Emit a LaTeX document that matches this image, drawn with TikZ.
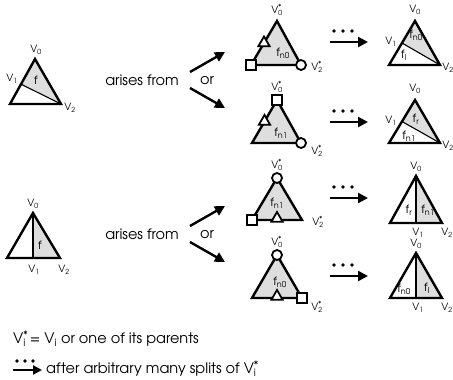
\documentclass[tikz,border=0pt]{standalone}
\usepackage{fontspec}
\setmainfont{texgyreadventor-regular.otf}
\usetikzlibrary{arrows.meta,shapes.geometric,calc}
\newcommand{\vl}[1]{V\textsubscript{#1}}
\newcommand{\vs}[1]{V\rlap{\textsuperscript{*}}\textsubscript{#1}}
\newcommand{\fl}[1]{f\textsubscript{#1}}
\begin{document}
\begin{tikzpicture}[x=1pt,y=-1pt,
  tri/.style={line width=2.4pt,line join=miter},
  split/.style={line width=1.1pt},
  fillg/.style={fill=black!13},
  arr/.style={line width=2.4pt,-{Triangle[length=10pt,width=10pt]}},
  larr/.style={line width=2.2pt,-{Triangle[length=9pt,width=9pt]}},
  vlab/.style={font=\fontsize{10}{12}\selectfont,inner sep=0.5pt},
  flab/.style={font=\fontsize{11.5}{14}\selectfont,inner sep=0pt},
  txt/.style={font=\fontsize{14.5}{17}\selectfont,inner sep=0pt},
  mkc/.style={circle,draw,line width=1.8pt,fill=white,inner sep=0pt,minimum size=10pt},
  mks/.style={rectangle,draw,line width=1.8pt,fill=white,inner sep=0pt,minimum size=10pt},
  mkt/.style={regular polygon,regular polygon sides=3,draw,line width=1.8pt,fill=white,inner sep=0pt,minimum size=13pt},
  dot/.style={circle,fill=black,inner sep=0pt,minimum size=3.8pt}]
\useasboundingbox (0,0) rectangle (453,380);

% ---------- left triangle, row 1
\coordinate (a0) at (35,59); \coordinate (aL) at (10,104); \coordinate (a2) at (61,104);
\coordinate (a1) at ($(a0)!0.56!(aL)$);
\fill[fillg] (a0) -- (a1) -- (a2) -- cycle;
\draw[split] (a1) -- (a2);
\draw[tri] (a0) -- (aL) -- (a2) -- cycle;
\node[vlab] (a0l) at (36,50) {\vl{0}};
\node[vlab] (a1l) at (12,79) {\vl{1}};
\node[vlab] (a2l) at (70,108) {\vl{2}};
\node[flab] (af) at (36,80) {f};

% ---------- left triangle, row 2
\coordinate (b0) at (33,213); \coordinate (bL) at (7,258); \coordinate (b2) at (60,258);
\coordinate (b1) at (33,258);
\fill[fillg] (b0) -- (b1) -- (b2) -- cycle;
\draw[split] (b0) -- (b1);
\draw[tri] (b0) -- (bL) -- (b2) -- cycle;
\node[vlab] (b0l) at (33,204) {\vl{0}};
\node[vlab] (b1l) at (34,270) {\vl{1}};
\node[vlab] (b2l) at (64,270) {\vl{2}};
\node[flab] (bf) at (40,245) {f};

% ---------- texts
\node[txt] (t1) at (142,80) {arises from};
\node[txt] (o1) at (207,81) {or};
\node[txt] (t2) at (142,234) {arises from};
\node[txt] (o2) at (207,235) {or};
\coordinate (s1a) at (190,72); \coordinate (e1a) at (225,52);
\coordinate (s1b) at (190,88); \coordinate (e1b) at (225,108);
\coordinate (s2a) at (190,226); \coordinate (e2a) at (225,206);
\coordinate (s2b) at (190,242); \coordinate (e2b) at (225,262);
\draw[arr] (s1a) -- (e1a);
\draw[arr] (s1b) -- (e1b);
\draw[arr] (s2a) -- (e2a);
\draw[arr] (s2b) -- (e2b);

% ---------- middle triangles
% m1
\coordinate (m1a) at (277,21); \coordinate (m1l) at (251,65); \coordinate (m1r) at (301,65);
\filldraw[fillg,tri] (m1a) -- (m1l) -- (m1r) -- cycle;
\node[mkt] (m1t) at ($(m1a)!0.5!(m1l)$) {};
\node[mks] (m1s) at (m1l) {};
\node[mkc] (m1c) at (m1r) {};
\node[vlab] (m1a_l) at (277,10) {\vs{0}};
\node[vlab] (m1r_l) at (317,67) {\vs{2}};
\node[flab] (m1f) at (283,53) {\fl{n0}};
% m2
\coordinate (m2a) at (277,100); \coordinate (m2l) at (252,143); \coordinate (m2r) at (301,143);
\filldraw[fillg,tri] (m2a) -- (m2l) -- (m2r) -- cycle;
\node[mkt] (m2t) at ($(m2a)!0.5!(m2l)$) {};
\node[mks] (m2s) at (m2a) {};
\node[mkc] (m2c) at (m2r) {};
\node[vlab] (m2a_l) at (277,87) {\vs{0}};
\node[vlab] (m2r_l) at (317,151) {\vs{2}};
\node[flab] (m2f) at (281,133) {\fl{n1}};
% m3
\coordinate (m3a) at (277,178); \coordinate (m3l) at (252,220); \coordinate (m3r) at (302,220);
\filldraw[fillg,tri] (m3a) -- (m3l) -- (m3r) -- cycle;
\node[mkt] (m3t) at ($(m3l)!0.5!(m3r)+(0,-1.5)$) {};
\node[mks] (m3s) at (m3l) {};
\node[mkc] (m3c) at (m3a) {};
\node[vlab] (m3a_l) at (277,165) {\vs{0}};
\node[vlab] (m3r_l) at (318,222) {\vs{2}};
\node[flab] (m3f) at (277,203) {\fl{n1}};
% m4
\coordinate (m4a) at (277,255); \coordinate (m4l) at (252,298); \coordinate (m4r) at (302,298);
\filldraw[fillg,tri] (m4a) -- (m4l) -- (m4r) -- cycle;
\node[mkt] (m4t) at ($(m4l)!0.5!(m4r)+(0,-1.5)$) {};
\node[mks] (m4s) at (m4r) {};
\node[mkc] (m4c) at (m4a) {};
\node[vlab] (m4a_l) at (277,242) {\vs{0}};
\node[vlab] (m4r_l) at (317,307) {\vs{2}};
\node[flab] (m4f) at (280,282) {\fl{n0}};

% ---------- dotted arrows
\foreach \i/\y in {1/42,2/122,3/198,4/276}{
  \coordinate (ds\i) at (330,\y); \coordinate (de\i) at (368,\y);
  \draw[arr] (ds\i) -- (de\i);
  \node[dot] (da\i) at (334,\y-11) {};
  \node[dot] (db\i) at (343,\y-11) {};
  \node[dot] (dc\i) at (352,\y-11) {};
}

% ---------- right triangles
% r1
\coordinate (r1a) at (415,21); \coordinate (r1L) at (389,65); \coordinate (r1r) at (440,65);
\coordinate (r1v) at ($(r1a)!0.5!(r1L)$);
\fill[fillg] (r1a) -- (r1v) -- (r1r) -- cycle;
\draw[split] (r1v) -- (r1r);
\draw[tri] (r1a) -- (r1L) -- (r1r) -- cycle;
\node[vlab] (r1a_l) at (415,10) {\vl{0}};
\node[vlab] (r1v_l) at (391,42) {\vl{1}};
\node[vlab] (r1r_l) at (448,68) {\vl{2}};
\node[flab] (r1f1) at (416,35) {\fl{n0}};
\node[flab] (r1f2) at (404,55) {\fl{l}};
% r2
\coordinate (r2a) at (415,100); \coordinate (r2L) at (389,143); \coordinate (r2r) at (440,143);
\coordinate (r2v) at ($(r2a)!0.5!(r2L)$);
\fill[fillg] (r2a) -- (r2v) -- (r2r) -- cycle;
\draw[split] (r2v) -- (r2r);
\draw[tri] (r2a) -- (r2L) -- (r2r) -- cycle;
\node[vlab] (r2a_l) at (415,89) {\vl{0}};
\node[vlab] (r2v_l) at (391,121) {\vl{1}};
\node[vlab] (r2r_l) at (448,146) {\vl{2}};
\node[flab] (r2f1) at (416,119) {\fl{r}};
\node[flab] (r2f2) at (409,136) {\fl{n1}};
% r3
\coordinate (r3a) at (416,176); \coordinate (r3L) at (390,223); \coordinate (r3r) at (442,223);
\coordinate (r3v) at (416,223);
\fill[fillg] (r3a) -- (r3v) -- (r3r) -- cycle;
\draw[split] (r3a) -- (r3v);
\draw[tri] (r3a) -- (r3L) -- (r3r) -- cycle;
\node[vlab] (r3a_l) at (416,167) {\vl{0}};
\node[vlab] (r3v_l) at (418,233) {\vl{1}};
\node[vlab] (r3r_l) at (447,233) {\vl{2}};
\node[flab] (r3f1) at (409,210) {\fl{r}};
\node[flab] (r3f2) at (428,210) {\fl{n1}};
% r4
\coordinate (r4a) at (416,253); \coordinate (r4L) at (390,298); \coordinate (r4r) at (442,298);
\coordinate (r4v) at (416,298);
\fill[fillg] (r4a) -- (r4v) -- (r4r) -- cycle;
\draw[split] (r4a) -- (r4v);
\draw[tri] (r4a) -- (r4L) -- (r4r) -- cycle;
\node[vlab] (r4a_l) at (416,244) {\vl{0}};
\node[vlab] (r4v_l) at (418,308) {\vl{1}};
\node[vlab] (r4r_l) at (447,308) {\vl{2}};
\node[flab] (r4f1) at (404,289) {\fl{n0}};
\node[flab] (r4f2) at (427,288) {\fl{l}};

% ---------- legend
\node[txt,anchor=west] (lg1) at (13,339) {\vs{i} = \vl{i} or one of its parents};
\coordinate (ls) at (13,370); \coordinate (le) at (42,370);
\draw[larr] (ls) -- (le);
\node[dot] (la) at (17,361) {};
\node[dot] (lb) at (25,361) {};
\node[dot] (lc) at (33,361) {};
\node[txt,anchor=west] (lg2) at (46,369) {after arbitrary many splits of \vs{i}};
\end{tikzpicture}
\end{document}
